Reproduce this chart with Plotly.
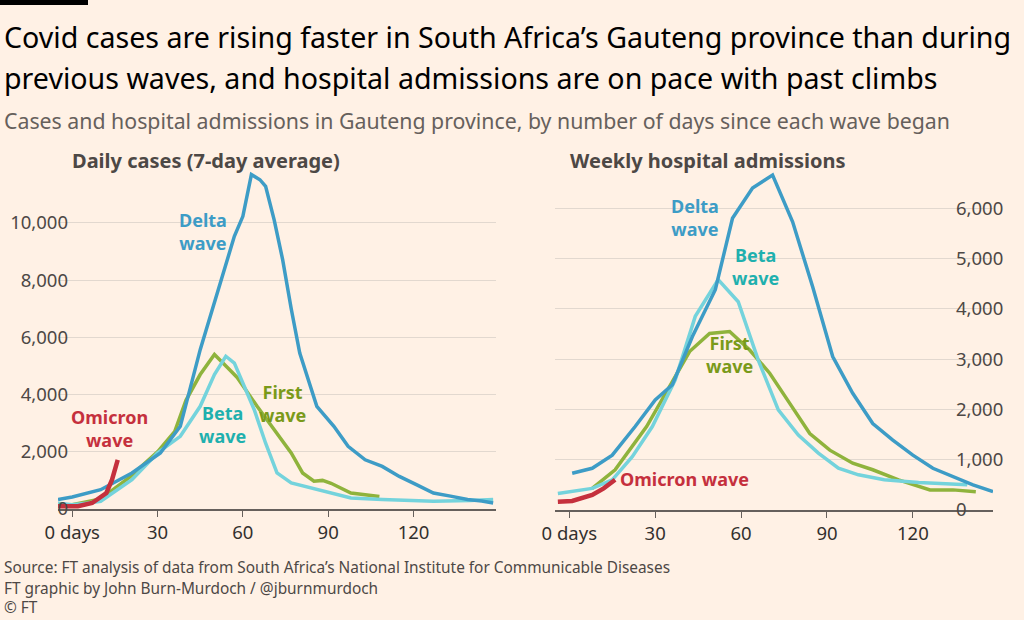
import plotly.graph_objects as go

# Daily cases (7-day average)
delta_c_x = [-5, 0, 10, 21, 31, 38, 45, 51, 57, 60, 63, 66, 68, 71, 74, 77, 80, 86, 92, 97, 103, 109, 115, 121, 127, 133, 139, 144, 148]
delta_c_y = [330, 420, 675, 1260, 1960, 2890, 5570, 7550, 9530, 10230, 11690, 11510, 11280, 10110, 8710, 7000, 5450, 3590, 2890, 2190, 1720, 1490, 1140, 850, 560, 450, 330, 280, 210]
beta_c_x = [-5, 0, 5, 10, 21, 30, 38, 45, 50, 54, 57, 64, 68, 72, 77, 86, 98, 109, 127, 140, 148]
beta_c_y = [200, 150, 200, 270, 1025, 1960, 2540, 3590, 4700, 5340, 5100, 3470, 2300, 1260, 910, 675, 385, 330, 270, 300, 330]
first_c_x = [0, 10, 20, 30, 36, 40, 45, 50, 55, 58, 65, 72, 77, 81, 85, 88, 91, 98, 108]
first_c_y = [150, 350, 1100, 2000, 2700, 3800, 4700, 5400, 4900, 4600, 3590, 2650, 1960, 1260, 970, 1000, 900, 560, 440]
omi_c_x = [-5, 2, 7, 12, 14, 16]
omi_c_y = [100, 100, 210, 560, 1025, 1720]

# Weekly hospital admissions
delta_h_x = [1, 8, 15, 23, 30, 36, 43, 51, 57, 64, 71, 78, 85, 92, 99, 106, 113, 120, 127, 134, 141, 148]
delta_h_y = [730, 830, 1090, 1660, 2190, 2490, 3450, 4380, 5800, 6400, 6660, 5730, 4440, 3050, 2320, 1720, 1390, 1090, 830, 660, 500, 365]
beta_h_x = [-4, 1, 8, 15, 22, 29, 37, 44, 52, 59, 66, 73, 80, 87, 94, 101, 110, 122, 139]
beta_h_y = [330, 365, 430, 600, 1060, 1660, 2590, 3850, 4580, 4140, 2980, 1990, 1490, 1130, 830, 700, 600, 545, 500]
first_h_x = [8, 16, 27, 35, 42, 49, 56, 63, 70, 77, 84, 91, 99, 106, 115, 126, 134, 142]
first_h_y = [430, 800, 1660, 2450, 3150, 3510, 3550, 3180, 2720, 2120, 1520, 1190, 930, 800, 600, 400, 400, 365]
omi_h_x = [-4, 1, 8, 12, 16]
omi_h_y = [165, 180, 300, 430, 600]

x_ticks = [0, 30, 60, 90, 120]
x_labels = ["0 days", "30", "60", "90", "120"]

BG = "#fff1e5"
C_DELTA = "#3d9cc6"
C_BETA = "#74d3dc"
C_FIRST = "#8fb33c"
C_OMI = "#c5303d"
FONT = "Noto Sans"

fig = go.Figure()
def add(x, y, c, xa, ya, w=3.5):
    fig.add_trace(go.Scatter(x=x, y=y, mode="lines", line=dict(color=c, width=w),
                             xaxis=xa, yaxis=ya, showlegend=False, hoverinfo="skip"))

add(first_c_x, first_c_y, C_FIRST, "x", "y")
add(beta_c_x, beta_c_y, C_BETA, "x", "y")
add(delta_c_x, delta_c_y, C_DELTA, "x", "y")
add(omi_c_x, omi_c_y, C_OMI, "x", "y", 4.5)
add(first_h_x, first_h_y, C_FIRST, "x2", "y2")
add(beta_h_x, beta_h_y, C_BETA, "x2", "y2")
add(delta_h_x, delta_h_y, C_DELTA, "x2", "y2")
add(omi_h_x, omi_h_y, C_OMI, "x2", "y2", 4.5)

W, H = 1024, 620
ax_common = dict(tickvals=x_ticks, ticktext=x_labels, showgrid=False, zeroline=False, automargin=False,
                 showline=True, linecolor="#66605c", linewidth=1.5, ticks="outside",
                 ticklen=6, tickcolor="#66605c", tickfont=dict(size=18.5, color="#33302e", family=FONT))
fig.update_layout(
    width=W, height=H, paper_bgcolor=BG, plot_bgcolor=BG,
    margin=dict(l=0, r=0, t=0, b=0),
    font=dict(family=FONT),
    xaxis=dict(domain=[58/W, 496/W], range=[-5, 149], anchor="y", **ax_common),
    xaxis2=dict(domain=[555/W, 993/W], range=[-5, 148], anchor="y2", **ax_common),
    yaxis=dict(domain=[(H-509)/H, (H-170)/H], range=[0, 11850], anchor="free", position=68/W, automargin=False,
               tickvals=[0, 2000, 4000, 6000, 8000, 10000], ticktext=["0", "2,000", "4,000", "6,000", "8,000", "10,000"],
               showgrid=True, gridcolor="#e2d8cf", gridwidth=1, zeroline=False, ticks="",
               tickfont=dict(size=18.5, color="#4d4845", family=FONT)),
    yaxis2=dict(domain=[(H-510)/H, (H-170)/H], range=[0, 6760], anchor="free", position=955/W, side="right",
                automargin=False,
                tickvals=[0, 1000, 2000, 3000, 4000, 5000, 6000], ticktext=["0", "1,000", "2,000", "3,000", "4,000", "5,000", "6,000"],
                showgrid=True, gridcolor="#e2d8cf", gridwidth=1, zeroline=False, ticks="",
                tickfont=dict(size=18.5, color="#4d4845", family=FONT)),
)

fig.add_shape(type="rect", xref="paper", yref="paper", x0=0, x1=88/W, y0=1-5/H, y1=1,
              fillcolor="#000000", line_width=0)

def txt(x, y, s, size, color, xanchor="left", xref="paper", yref="paper", align="left"):
    fig.add_annotation(x=x, y=y, xref=xref, yref=yref, text=s, showarrow=False,
                       xanchor=xanchor, yanchor="middle", align=align,
                       font=dict(size=size, color=color, family=FONT))

txt(2/W, 1-36/H, "Covid cases are rising faster in South Africa’s Gauteng province than during", 28.6, "#000000")
txt(2/W, 1-78/H, "previous waves, and hospital admissions are on pace with past climbs", 28.6, "#000000")
txt(2/W, 1-120/H, "Cases and hospital admissions in Gauteng province, by number of days since each wave began", 21.3, "#66605c")
txt(70/W, 1-160/H, "<b>Daily cases (7-day average)</b>", 20, "#4d4845")
txt(568/W, 1-160/H, "<b>Weekly hospital admissions</b>", 20, "#4d4845")
txt(2/W, 1-567/H, "Source: FT analysis of data from South Africa’s National Institute for Communicable Diseases", 15.4, "#4d4845")
txt(2/W, 1-588/H, "FT graphic by John Burn-Murdoch / @jburnmurdoch", 15.4, "#4d4845")
txt(2/W, 1-607/H, "© FT", 15.4, "#4d4845")

def lab(x, y, s, c, xa, ya):
    fig.add_annotation(x=x, y=y, xref=xa, yref=ya, text="<b>" + s + "</b>", showarrow=False,
                       xanchor="center", yanchor="middle", align="center",
                       font=dict(size=18, color=c, family=FONT))

lab(46, 9700, "Delta<br>wave", "#3d9cc6", "x", "y")
lab(53, 2950, "Beta<br>wave", "#1fb0ae", "x", "y")
lab(74, 3700, "First<br>wave", "#7a9a1a", "x", "y")
lab(13, 2800, "Omicron<br>wave", C_OMI, "x", "y")
lab(44, 5820, "Delta<br>wave", "#3d9cc6", "x2", "y2")
lab(65, 4850, "Beta<br>wave", "#1fb0ae", "x2", "y2")
lab(56, 3100, "First<br>wave", "#7a9a1a", "x2", "y2")
fig.add_annotation(x=17, y=620, xref="x2", yref="y2", text="<b>Omicron wave</b>", showarrow=False,
                   xanchor="left", yanchor="middle", font=dict(size=18, color=C_OMI, family=FONT))

fig.write_html("out.html", config={"displayModeBar": False},
               post_script="document.body.style.margin='0';document.body.style.overflow='hidden';")
